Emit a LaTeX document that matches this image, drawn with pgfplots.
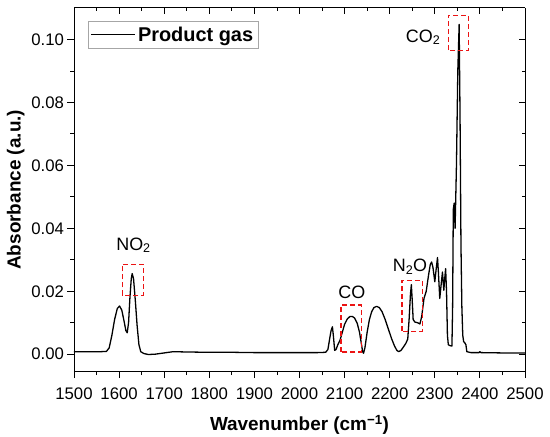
\documentclass[border=0pt]{standalone}
\usepackage{fontspec}
\setmainfont{Liberation Sans}
\usepackage{pgfplots}
\pgfplotsset{compat=1.18}
\definecolor{boxred}{RGB}{235,20,20}
\begin{document}
\begin{tikzpicture}
\pgfplotsset{
  commonaxis/.style={
    scale only axis, width=451bp, height=363.5bp,
    xmin=1500, xmax=2500, ymin=-0.0055, ymax=0.11,
    xtick={1500,1600,...,2500}, minor x tick num=1,
    ytick={0,0.02,...,0.10}, minor y tick num=1,
    major tick length=6.5bp, minor tick length=3.5bp,
    every tick/.style={black, line width=0.9pt},
    every minor tick/.style={black, line width=0.8pt},
    axis line style={line width=1pt},
  },
  redbox/.style={draw=boxred, line width=1.3pt, dash pattern=on 5bp off 3bp, forget plot, mark=none},
}
\begin{axis}[commonaxis, name=main,
  axis x line*=bottom, axis y line*=left,
  tick align=outside,
  /pgf/number format/assume math mode=true,
  tick label style={font=\fontsize{16.8}{18}\selectfont},
  yticklabel style={/pgf/number format/.cd, fixed, fixed zerofill, precision=2},
  xticklabel style={yshift=-6bp, /pgf/number format/.cd, set thousands separator={}},
  xlabel={\textbf{Wavenumber (cm\textsuperscript{−1})}},
  ylabel={\textbf{Absorbance (a.u.)}},
  label style={font=\fontsize{19}{21}\selectfont},
  xlabel style={yshift=-9bp},
  ylabel style={yshift=0bp},
  legend style={at={(0.03,0.964)}, anchor=north west, draw=gray!70, line width=0.6pt,
    font=\fontsize{20}{22}\selectfont\bfseries, inner xsep=3bp, inner ysep=3.5bp,
    legend cell align=left},
  legend image code/.code={\draw[#1, line width=1.2pt] (0bp,0bp) -- (44bp,0bp);},
  clip=true,
]
\addplot[black, line width=1.3pt, line join=round] coordinates {
(1500,0.0008) (1520,0.0008) (1540,0.0008) (1560,0.0008) (1572,0.0009)
(1578,0.0020) (1584,0.0060) (1590,0.0110) (1596,0.0145) (1601,0.0153)
(1606,0.0140) (1611,0.0105) (1615,0.0075) (1618,0.0068) (1621,0.0100)
(1624,0.0180) (1627,0.0240) (1629,0.0256) (1632,0.0240) (1636,0.0170)
(1640,0.0090) (1644,0.0030) (1648,0.0008) (1655,0.0002) (1665,-0.0001)
(1680,0.0000) (1700,0.0004) (1720,0.0008) (1750,0.0007) (1800,0.0006)
(1850,0.0006) (1900,0.0005) (1950,0.0005) (2000,0.0005) (2040,0.0005)
(2058,0.0006) (2063,0.0015) (2067,0.0050) (2070,0.0075) (2073,0.0087)
(2075,0.0060) (2078,0.0012) (2081,0.0015) (2085,0.0030) (2090,0.0045)
(2095,0.0070) (2100,0.0095) (2106,0.0112) (2112,0.0120) (2117,0.0120)
(2122,0.0115) (2128,0.0098) (2133,0.0070) (2137,0.0035) (2140,0.0008)
(2142,0.0003) (2145,0.0020) (2150,0.0070) (2155,0.0110) (2160,0.0135)
(2165,0.0148) (2171,0.0152) (2177,0.0148) (2183,0.0135) (2190,0.0110)
(2197,0.0080) (2204,0.0050) (2211,0.0025) (2216,0.0012) (2220,0.0008)
(2225,0.0012) (2230,0.0022) (2236,0.0035) (2240,0.0048) (2243,0.0110)
(2246,0.0190) (2248,0.0221) (2250,0.0170) (2252,0.0110) (2256,0.0102)
(2262,0.0100) (2267,0.0096) (2271,0.0120) (2276,0.0177) (2281,0.0200)
(2286,0.0250) (2290,0.0285) (2293,0.0293) (2296,0.0275) (2300,0.0230)
(2303,0.0270) (2306,0.0307) (2308,0.0260) (2311,0.0177) (2314,0.0220)
(2317,0.0261) (2320,0.0203) (2322,0.0240) (2324,0.0272) (2326,0.0200)
(2328,0.0060) (2330,0.0030) (2334,0.0027) (2338,0.0026) (2339.5,0.0150)
(2341,0.0460) (2343,0.0480) (2345,0.0400) (2348,0.0600) (2351,0.0900)
(2354,0.1048) (2356,0.0750) (2358,0.0350) (2360,0.0150) (2362,0.0060)
(2364,0.0040) (2367,0.0035) (2369,0.0030) (2371,0.0008) (2380,0.0005)
(2398,0.0005) (2400,0.0008) (2402,0.0005) (2450,0.0004) (2500,0.0004)
};
\addlegendentry{Product gas}
% red dashed annotation boxes
\addplot[redbox] coordinates {
(1607,0.0187) (1607,0.0285) (1654,0.0285) (1654,0.0187) (1607,0.0187)};
\addplot[redbox] coordinates {
(2092,0.0007) (2092,0.0156) (2137,0.0156) (2137,0.0007) (2092,0.0007)};
\addplot[redbox] coordinates {
(2227,0.0073) (2227,0.0235) (2272,0.0235) (2272,0.0073) (2227,0.0073)};
\addplot[redbox] coordinates {
(2330,0.0966) (2330,0.1077) (2375,0.1077) (2375,0.0966) (2330,0.0966)};
\node[font=\fontsize{18}{20}\selectfont] at (axis cs:1632,0.0346) {NO\textsubscript{2}};
\node[font=\fontsize{18}{20}\selectfont] at (axis cs:2116,0.0195) {CO};
\node[font=\fontsize{18}{20}\selectfont] at (axis cs:2245,0.0279) {N\textsubscript{2}O};
\node[font=\fontsize{18}{20}\selectfont] at (axis cs:2274,0.1007) {CO\textsubscript{2}};
\end{axis}
\begin{axis}[commonaxis,
  axis x line*=top, axis y line*=right,
  tick align=inside,
  xticklabels={}, yticklabels={},
]
\end{axis}
\pgfresetboundingbox
\path[use as bounding box] ([shift={(-74bp,-65.5bp)}]main.south west) rectangle ([shift={(25bp,8bp)}]main.north east);
\end{tikzpicture}
\end{document}
